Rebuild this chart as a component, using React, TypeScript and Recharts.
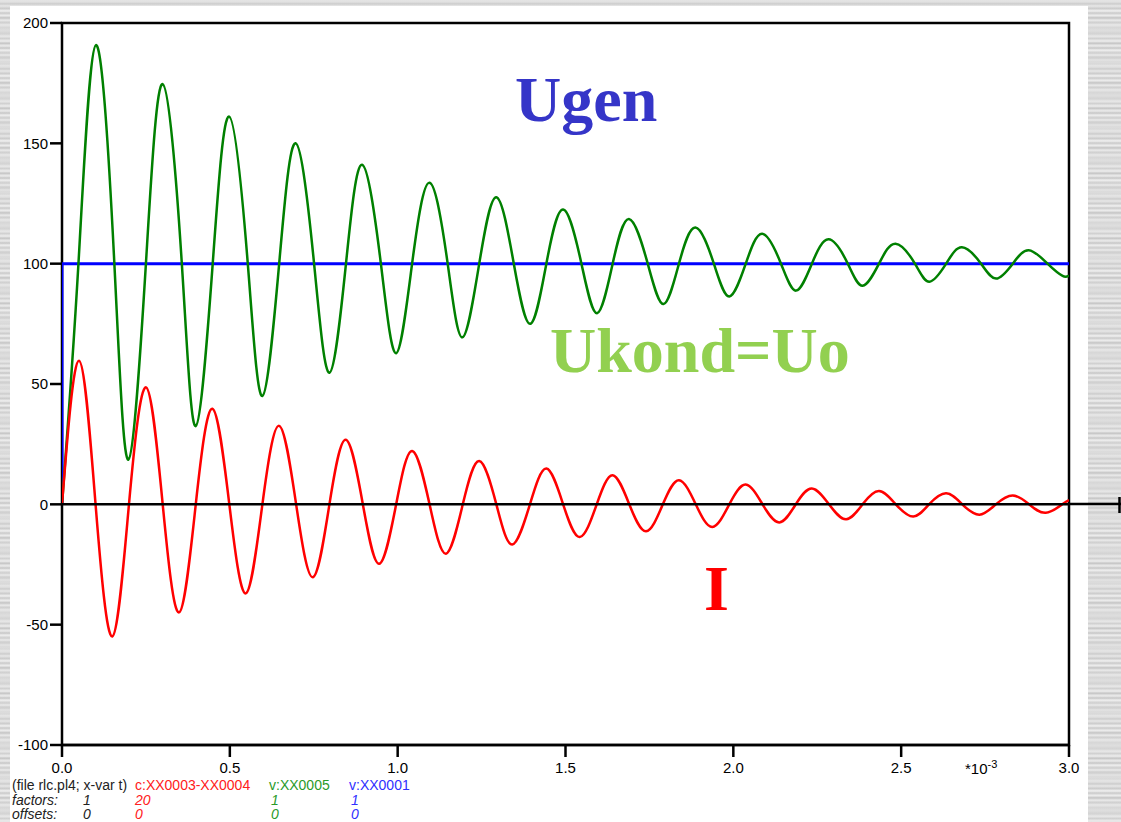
import { LineChart, Line, XAxis, YAxis, ReferenceLine, ReferenceArea } from "recharts";

// time axis in ms (*10^-3 s)
const xTicks = [0, 0.5, 1.0, 1.5, 2.0, 2.5, 3.0];
const yTicks = [-100, -50, 0, 50, 100, 150, 200];

// v:XX0005 - capacitor voltage (Ukond)
const greenT = [
  0, 0.049, 0.101, 0.156, 0.198, 0.25, 0.3, 0.357, 0.3985, 0.449, 0.498, 0.5535, 0.597, 0.647, 0.696, 0.751,
  0.797, 0.846, 0.894, 0.95, 0.9955, 1.043, 1.095, 1.149, 1.193, 1.243, 1.294, 1.346, 1.395, 1.443, 1.493,
  1.5475, 1.594, 1.6405, 1.689, 1.745, 1.792, 1.838, 1.887, 1.942, 1.988, 2.037, 2.086, 2.142, 2.187, 2.234,
  2.284, 2.341, 2.385, 2.434, 2.483, 2.541, 2.584, 2.634, 2.681, 2.738, 2.783, 2.8325, 2.88, 2.936, 2.981, 3.0,
];
const greenV = [
  0, 100, 190.8, 100, 18.6, 100, 174.6, 100, 32.5, 100, 161.1, 100, 45, 100, 150, 100,
  54.7, 100, 141.1, 100, 62.8, 100, 133.6, 100, 69.4, 100, 127.6, 100, 75, 100, 122.5,
  100, 79.4, 100, 118.6, 100, 83.2, 100, 115, 100, 86.4, 100, 112.4, 100, 88.8, 100,
  110.1, 100, 90.8, 100, 108.3, 100, 92.5, 100, 106.8, 100, 93.8, 100, 105.6, 100, 94.9, 95.1,
];

// c:XX0003-XX0004 - current, factor 20
const redT = [
  0, 0.0507, 0.1, 0.1499, 0.1995, 0.2504, 0.3, 0.3487, 0.3985, 0.448, 0.4985, 0.5475, 0.597, 0.6468, 0.6975,
  0.7473, 0.7967, 0.8456, 0.8963, 0.9449, 0.9955, 1.0432, 1.095, 1.1437, 1.194, 1.2429, 1.294, 1.3413, 1.394,
  1.443, 1.493, 1.5425, 1.593, 1.6405, 1.69, 1.74, 1.79, 1.838, 1.888, 1.9374, 1.988, 2.0367, 2.087, 2.137,
  2.186, 2.234, 2.285, 2.336, 2.385, 2.434, 2.484, 2.536, 2.583, 2.634, 2.682, 2.733, 2.782, 2.8325, 2.881,
  2.9306, 2.98, 3.0,
];
const redV = [
  0, 59.7, 0, -54.9, 0, 48.6, 0, -44.9, 0, 39.7, 0, -37, 0, 32.6, 0,
  -30.3, 0, 26.8, 0, -24.7, 0, 22.2, 0, -20.5, 0, 18, 0, -16.7, 0,
  14.9, 0, -13.6, 0, 12.1, 0, -11.2, 0, 10, 0, -9.4, 0, 8.2, 0, -7.5,
  0, 6.6, 0, -6.2, 0, 5.5, 0, -5.1, 0, 4.6, 0, -4.3, 0, 3.7, 0,
  -3.5, 0, 1.7,
];

// v:XX0001 - generator step (Ugen)
const blueT = [0, 0, 3.0];
const blueV = [0, 100, 100];

const green = greenT.map((t, i) => ({ t, v: greenV[i] }));
const red = redT.map((t, i) => ({ t, v: redV[i] }));
const blue = blueT.map((t, i) => ({ t, v: blueV[i] }));

const axisFont = { fontSize: 15, fill: "#000", fontFamily: "Liberation Sans, Arial, sans-serif" };

const metal =
  "repeating-linear-gradient(180deg, rgba(255,255,255,0.35) 0px, rgba(255,255,255,0) 2px, rgba(0,0,0,0.07) 3px, rgba(255,255,255,0.2) 5px), " +
  "repeating-linear-gradient(180deg, #d8d8d8 0px, #e6e6e6 3px, #cecece 4px, #e2e2e2 7px, #d3d3d3 9px, #e9e9e9 11px, #d6d6d6 13px)";

const legendRow = (top: number, cells: { x: number; text: string; color: string }[], italic: boolean) =>
  cells.map((c, i) => (
    <div
      key={`${top}-${i}`}
      style={{
        position: "absolute",
        left: c.x,
        top,
        fontSize: 14,
        lineHeight: "14px",
        whiteSpace: "nowrap",
        color: c.color,
        fontStyle: italic ? "italic" : "normal",
        fontFamily: "Liberation Sans, Arial, sans-serif",
      }}
    >
      {c.text}
    </div>
  ));

export default function App() {
  return (
    <div style={{ position: "fixed", left: 0, top: 0, width: 1121, height: 822, background: metal, overflow: "hidden" }}>
      <div style={{ position: "absolute", left: 10, top: 6, width: 1078, height: 816, background: "#fff" }} />
      <div style={{ position: "absolute", left: 0, top: 0 }}>
        <LineChart width={1121} height={822} margin={{ top: 23, right: 52, bottom: 47, left: 0 }}>
          <ReferenceArea x1={0} x2={3} y1={-100} y2={200} fill="none" stroke="#000" strokeWidth={2.5} fillOpacity={0} />
          <XAxis
            type="number"
            dataKey="t"
            domain={[0, 3]}
            ticks={xTicks}
            interval={0}
            allowDataOverflow
            tickFormatter={(v: number) => v.toFixed(1)}
            tick={axisFont}
            axisLine={{ stroke: "#000", strokeWidth: 2.5 }}
            tickLine={{ stroke: "#000", strokeWidth: 2.5 }}
            tickSize={12}
            tickMargin={5}
            height={30}
          />
          <YAxis
            type="number"
            dataKey="v"
            domain={[-100, 200]}
            ticks={yTicks}
            interval={0}
            allowDataOverflow
            tick={axisFont}
            axisLine={false}
            tickLine={{ stroke: "#000", strokeWidth: 2.5 }}
            tickSize={12}
            tickMargin={2}
            width={62}
          />
          <Line data={blue} dataKey="v" type="linear" stroke="#0000ff" strokeWidth={3} dot={false} isAnimationActive={false} />
          <Line data={green} dataKey="v" type="natural" stroke="#008000" strokeWidth={2.5} dot={false} isAnimationActive={false} />
          <Line data={red} dataKey="v" type="natural" stroke="#ff0000" strokeWidth={2.5} dot={false} isAnimationActive={false} />
          <ReferenceLine y={0} stroke="#000" strokeWidth={2.5} />
        </LineChart>
      </div>
      <svg width={1121} height={822} style={{ position: "absolute", left: 0, top: 0, pointerEvents: "none" }}>
        <line x1={1069} y1={504} x2={1121} y2={504} stroke="#000" strokeWidth={2.5} />
        <line x1={1119.5} y1={497} x2={1119.5} y2={513} stroke="#000" strokeWidth={2.5} />
        <text x={965} y={774} fontSize={15} fontFamily="Liberation Sans, Arial, sans-serif" fill="#000">
          *10
          <tspan fontSize={11} dy={-6}>-3</tspan>
        </text>
        <g fontFamily="Liberation Serif, Times New Roman, serif" fontWeight="bold" fontSize={64}>
          <text x={515} y={121} fill="#3535c8">Ugen</text>
          <text x={550} y={372} fill="#92d050">Ukond=Uo</text>
          <text x={704} y={610} fill="#ff0000">I</text>
        </g>
      </svg>
      {legendRow(778, [
        { x: 12, text: "(file rlc.pl4; x-var t)", color: "#222" },
        { x: 135, text: "c:XX0003-XX0004", color: "#ff2020" },
        { x: 269, text: "v:XX0005", color: "#2a9a2a" },
        { x: 349, text: "v:XX0001", color: "#3030ff" },
      ], false)}
      {legendRow(793, [
        { x: 12, text: "factors:", color: "#222" },
        { x: 83, text: "1", color: "#222" },
        { x: 135, text: "20", color: "#ff2020" },
        { x: 271, text: "1", color: "#2a9a2a" },
        { x: 351, text: "1", color: "#3030ff" },
      ], true)}
      {legendRow(807, [
        { x: 12, text: "offsets:", color: "#222" },
        { x: 83, text: "0", color: "#222" },
        { x: 135, text: "0", color: "#ff2020" },
        { x: 271, text: "0", color: "#2a9a2a" },
        { x: 351, text: "0", color: "#3030ff" },
      ], true)}
    </div>
  );
}
